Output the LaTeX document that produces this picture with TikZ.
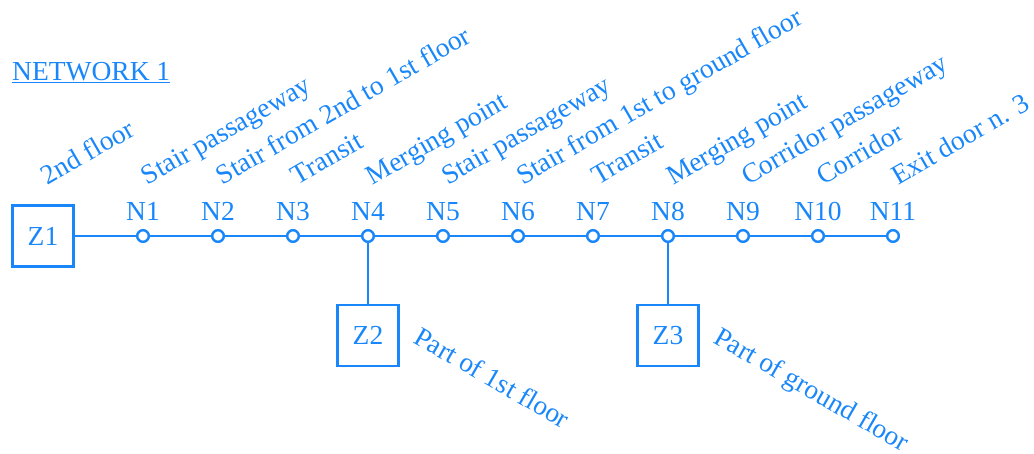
\documentclass[tikz,border=0pt]{standalone}
\usepackage{fontspec}
\setmainfont{Liberation Serif}
\definecolor{net}{RGB}{25,135,250}
\newcommand\netfont{\fontsize{27.5}{32}\selectfont}
\begin{document}
\begin{tikzpicture}[x=1pt,y=-1pt,line width=2.3pt,draw=net,
  zone/.style={draw=net,minimum size=61pt,inner sep=0pt,font=\netfont,text=net},
  pt/.style={circle,draw=net,fill=white,minimum size=11.5pt,inner sep=0pt},
  nlabel/.style={text=net,font=\netfont,anchor=base,inner sep=0pt},
  rlabel/.style={text=net,font=\netfont,anchor=base west,rotate=30,inner sep=0pt},
  dlabel/.style={text=net,font=\netfont,anchor=north west,rotate=-30,inner sep=0pt},
  link/.style={draw=net,line width=2.3pt}]
\useasboundingbox (0,0) rectangle (1034,453);
\node[text=net,font=\netfont,anchor=base west,inner sep=0pt] (title) at (11,80) {\underline{NETWORK 1}};
\node[zone] (Z1) at (43,236) {Z1};
\node[zone] (Z2) at (368,335.5) {Z2};
\node[zone] (Z3) at (668,335.5) {Z3};
\foreach \i in {1,...,11}{
  \node[pt] (N\i) at ({143+75*(\i-1)},236) {};
  \node[nlabel] (L\i) at ({143+75*(\i-1)},220) {N\i};
}
\draw[link] (Z1) -- (N1);
\foreach \i [evaluate=\i as \j using int(\i+1)] in {1,...,10}{
  \draw[link] (N\i) -- (N\j);
}
\draw[link] (N4) -- (Z2);
\draw[link] (N8) -- (Z3);
\foreach \i in {1,...,11}{ \node[pt] at (N\i) {}; }
\node[rlabel] (R0) at (47,186) {2nd floor};
\node[rlabel] (R1) at (147,186) {Stair passageway};
\node[rlabel] (R2) at (222,186) {Stair from 2nd to 1st floor};
\node[rlabel] (R3) at (297,186) {Transit};
\node[rlabel] (R4) at (372,186) {Merging point};
\node[rlabel] (R5) at (447,186) {Stair passageway};
\node[rlabel] (R6) at (522,186) {Stair from 1st to ground floor};
\node[rlabel] (R7) at (597,186) {Transit};
\node[rlabel] (R8) at (672,186) {Merging point};
\node[rlabel] (R9) at (747,186) {Corridor passageway};
\node[rlabel] (R10) at (822,186) {Corridor};
\node[rlabel] (R11) at (897,186) {Exit door n. 3};
\node[dlabel] (P2) at (422,324) {Part of 1st floor};
\node[dlabel] (P3) at (722,324) {Part of ground floor};
\end{tikzpicture}
\end{document}
